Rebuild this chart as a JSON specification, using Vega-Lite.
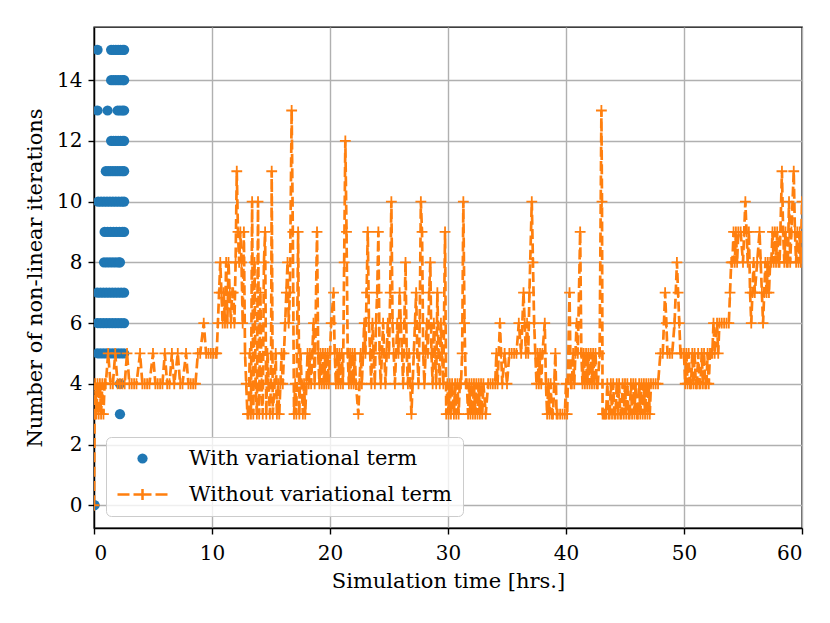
{
  "$schema": "https://vega.github.io/schema/vega-lite/v6.json",
  "width": 708,
  "height": 501,
  "autosize": "none",
  "padding": {"left": 94, "top": 27, "right": 28, "bottom": 95},
  "background": "white",
  "datasets": {
    "dots": [
      {"t": 0.3, "n": 15}, {"t": 1.45, "n": 15}, {"t": 1.65, "n": 15}, {"t": 1.85, "n": 15}, {"t": 2.05, "n": 15}, {"t": 2.25, "n": 15}, {"t": 2.45, "n": 15}, {"t": 2.55, "n": 15},
      {"t": 1.45, "n": 14}, {"t": 1.65, "n": 14}, {"t": 1.85, "n": 14}, {"t": 2.05, "n": 14}, {"t": 2.25, "n": 14}, {"t": 2.45, "n": 14}, {"t": 2.55, "n": 14},
      {"t": 0.3, "n": 13}, {"t": 1.15, "n": 13}, {"t": 2.0, "n": 13}, {"t": 2.2, "n": 13}, {"t": 2.4, "n": 13}, {"t": 2.55, "n": 13},
      {"t": 1.45, "n": 12}, {"t": 1.65, "n": 12}, {"t": 1.85, "n": 12}, {"t": 2.05, "n": 12}, {"t": 2.25, "n": 12}, {"t": 2.45, "n": 12}, {"t": 2.55, "n": 12},
      {"t": 1.0, "n": 11}, {"t": 1.2, "n": 11}, {"t": 1.4, "n": 11}, {"t": 1.6, "n": 11}, {"t": 1.8, "n": 11}, {"t": 2.0, "n": 11}, {"t": 2.2, "n": 11}, {"t": 2.4, "n": 11}, {"t": 2.55, "n": 11},
      {"t": 0.35, "n": 10}, {"t": 0.6, "n": 10}, {"t": 0.85, "n": 10}, {"t": 1.1, "n": 10}, {"t": 1.35, "n": 10}, {"t": 1.6, "n": 10}, {"t": 1.85, "n": 10}, {"t": 2.1, "n": 10}, {"t": 2.35, "n": 10}, {"t": 2.55, "n": 10},
      {"t": 0.9, "n": 9}, {"t": 1.15, "n": 9}, {"t": 1.4, "n": 9}, {"t": 1.65, "n": 9}, {"t": 1.9, "n": 9}, {"t": 2.15, "n": 9}, {"t": 2.4, "n": 9}, {"t": 2.55, "n": 9},
      {"t": 0.85, "n": 8}, {"t": 1.1, "n": 8}, {"t": 1.35, "n": 8}, {"t": 1.6, "n": 8}, {"t": 1.85, "n": 8}, {"t": 2.1, "n": 8}, {"t": 2.2, "n": 8},
      {"t": 0.3, "n": 7}, {"t": 0.55, "n": 7}, {"t": 0.8, "n": 7}, {"t": 1.05, "n": 7}, {"t": 1.3, "n": 7}, {"t": 1.55, "n": 7}, {"t": 1.8, "n": 7}, {"t": 2.05, "n": 7}, {"t": 2.3, "n": 7}, {"t": 2.55, "n": 7},
      {"t": 0.3, "n": 6}, {"t": 0.55, "n": 6}, {"t": 0.8, "n": 6}, {"t": 1.05, "n": 6}, {"t": 1.3, "n": 6}, {"t": 1.55, "n": 6}, {"t": 1.8, "n": 6}, {"t": 2.05, "n": 6}, {"t": 2.3, "n": 6}, {"t": 2.55, "n": 6},
      {"t": 0.3, "n": 5}, {"t": 0.55, "n": 5}, {"t": 0.8, "n": 5}, {"t": 1.05, "n": 5}, {"t": 1.3, "n": 5}, {"t": 1.55, "n": 5}, {"t": 1.8, "n": 5}, {"t": 2.05, "n": 5}, {"t": 2.3, "n": 5}, {"t": 2.55, "n": 5},
      {"t": 2.2, "n": 4}, {"t": 2.2, "n": 3}, {"t": 0.05, "n": 0}
    ],
    "runs": [
      {"t": 0, "n": 0}, {"t": 0.05, "n": 3}, {"t": 0.1, "n": 4}, {"t": 0.2, "n": 3}, {"t": 0.3, "n": 4}, {"t": 0.4, "n": 3}, {"t": 0.5, "n": 4}, {"t": 0.6, "n": 3}, {"t": 0.7, "n": 4}, {"t": 0.8, "n": 3}, {"t": 0.9, "n": 4},
      {"t": 1.0, "n": 4}, {"t": 1.2, "n": 5}, {"t": 1.4, "n": 4}, {"t": 1.6, "n": 4}, {"t": 1.8, "n": 5}, {"t": 2.0, "n": 4}, {"t": 2.2, "n": 4}, {"t": 2.4, "n": 4}, {"t": 2.6, "n": 4}, {"t": 2.8, "n": 5},
      {"t": 3.0, "n": 4}, {"t": 3.2, "n": 4}, {"t": 3.4, "n": 4}, {"t": 3.6, "n": 4}, {"t": 3.9, "n": 5}, {"t": 4.1, "n": 4}, {"t": 4.3, "n": 4}, {"t": 4.5, "n": 4}, {"t": 4.7, "n": 4}, {"t": 5.0, "n": 5},
      {"t": 5.2, "n": 4}, {"t": 5.4, "n": 4}, {"t": 5.6, "n": 4}, {"t": 5.8, "n": 4}, {"t": 6.0, "n": 5}, {"t": 6.2, "n": 4}, {"t": 6.4, "n": 4}, {"t": 6.6, "n": 5}, {"t": 6.8, "n": 4}, {"t": 7.1, "n": 5},
      {"t": 7.3, "n": 4}, {"t": 7.5, "n": 4}, {"t": 7.8, "n": 5}, {"t": 8.0, "n": 4}, {"t": 8.2, "n": 4}, {"t": 8.4, "n": 4}, {"t": 8.6, "n": 4}, {"t": 8.8, "n": 5}, {"t": 9.0, "n": 5}, {"t": 9.3, "n": 6},
      {"t": 9.5, "n": 5}, {"t": 9.7, "n": 5}, {"t": 9.9, "n": 5}, {"t": 10.1, "n": 5}, {"t": 10.3, "n": 5},
      {"t": 10.4, "n": 5}, {"t": 10.5, "n": 6}, {"t": 10.6, "n": 7}, {"t": 10.7, "n": 8}, {"t": 10.8, "n": 7}, {"t": 10.9, "n": 6}, {"t": 11.0, "n": 7}, {"t": 11.1, "n": 6}, {"t": 11.2, "n": 8}, {"t": 11.3, "n": 6},
      {"t": 11.4, "n": 8}, {"t": 11.5, "n": 7}, {"t": 11.6, "n": 6}, {"t": 11.7, "n": 7}, {"t": 11.8, "n": 7}, {"t": 11.9, "n": 6}, {"t": 12.0, "n": 8}, {"t": 12.1, "n": 11}, {"t": 12.2, "n": 9}, {"t": 12.3, "n": 8},
      {"t": 12.4, "n": 9}, {"t": 12.5, "n": 8}, {"t": 12.6, "n": 6}, {"t": 12.7, "n": 9}, {"t": 12.8, "n": 5}, {"t": 12.9, "n": 4}, {"t": 13.0, "n": 3},
      {"t": 13.1, "n": 3}, {"t": 13.2, "n": 5}, {"t": 13.3, "n": 3}, {"t": 13.4, "n": 10}, {"t": 13.5, "n": 3}, {"t": 13.6, "n": 8}, {"t": 13.7, "n": 4}, {"t": 13.8, "n": 3}, {"t": 13.9, "n": 10}, {"t": 14.0, "n": 3},
      {"t": 14.1, "n": 7}, {"t": 14.2, "n": 4}, {"t": 14.3, "n": 3}, {"t": 14.4, "n": 8}, {"t": 14.5, "n": 9}, {"t": 14.6, "n": 3}, {"t": 14.7, "n": 5}, {"t": 14.8, "n": 4}, {"t": 14.9, "n": 3}, {"t": 15.0, "n": 4},
      {"t": 15.06, "n": 11}, {"t": 15.15, "n": 3}, {"t": 15.3, "n": 4}, {"t": 15.4, "n": 5}, {"t": 15.5, "n": 3}, {"t": 15.6, "n": 4}, {"t": 15.7, "n": 3}, {"t": 15.8, "n": 4}, {"t": 15.9, "n": 5}, {"t": 16.0, "n": 4},
      {"t": 16.1, "n": 5}, {"t": 16.2, "n": 6}, {"t": 16.3, "n": 7}, {"t": 16.4, "n": 8}, {"t": 16.5, "n": 6}, {"t": 16.6, "n": 7}, {"t": 16.75, "n": 13}, {"t": 16.85, "n": 9}, {"t": 16.95, "n": 3}, {"t": 17.05, "n": 4},
      {"t": 17.15, "n": 3}, {"t": 17.3, "n": 9}, {"t": 17.4, "n": 3}, {"t": 17.5, "n": 5}, {"t": 17.6, "n": 4}, {"t": 17.7, "n": 3}, {"t": 17.8, "n": 4}, {"t": 17.9, "n": 3}, {"t": 18.0, "n": 4}, {"t": 18.1, "n": 5},
      {"t": 18.2, "n": 4}, {"t": 18.3, "n": 5}, {"t": 18.4, "n": 4}, {"t": 18.5, "n": 5}, {"t": 18.6, "n": 6}, {"t": 18.7, "n": 4}, {"t": 18.9, "n": 9}, {"t": 19.0, "n": 5}, {"t": 19.1, "n": 4}, {"t": 19.2, "n": 5},
      {"t": 19.3, "n": 4}, {"t": 19.4, "n": 5}, {"t": 19.5, "n": 4}, {"t": 19.6, "n": 5}, {"t": 19.7, "n": 4}, {"t": 19.8, "n": 5}, {"t": 19.9, "n": 4}, {"t": 20.0, "n": 5}, {"t": 20.1, "n": 6}, {"t": 20.3, "n": 7},
      {"t": 20.4, "n": 5}, {"t": 20.5, "n": 4}, {"t": 20.6, "n": 5}, {"t": 20.7, "n": 4}, {"t": 20.8, "n": 5}, {"t": 20.9, "n": 4}, {"t": 21.0, "n": 5}, {"t": 21.1, "n": 4}, {"t": 21.2, "n": 8}, {"t": 21.3, "n": 12},
      {"t": 21.4, "n": 9}, {"t": 21.5, "n": 5}, {"t": 21.6, "n": 4}, {"t": 21.7, "n": 5}, {"t": 21.8, "n": 4}, {"t": 21.9, "n": 5}, {"t": 22.0, "n": 4}, {"t": 22.1, "n": 5}, {"t": 22.2, "n": 4}, {"t": 22.4, "n": 3},
      {"t": 22.5, "n": 4}, {"t": 22.6, "n": 5}, {"t": 22.7, "n": 4}, {"t": 22.8, "n": 5}, {"t": 22.9, "n": 6}, {"t": 23.0, "n": 5}, {"t": 23.1, "n": 7}, {"t": 23.2, "n": 9}, {"t": 23.3, "n": 6}, {"t": 23.4, "n": 5},
      {"t": 23.5, "n": 4}, {"t": 23.6, "n": 6}, {"t": 23.7, "n": 5}, {"t": 23.8, "n": 4}, {"t": 23.9, "n": 6}, {"t": 24.0, "n": 7}, {"t": 24.1, "n": 9}, {"t": 24.2, "n": 5}, {"t": 24.3, "n": 4}, {"t": 24.4, "n": 5},
      {"t": 24.5, "n": 6}, {"t": 24.6, "n": 5}, {"t": 24.7, "n": 4}, {"t": 24.8, "n": 5}, {"t": 24.9, "n": 6}, {"t": 25.0, "n": 5}, {"t": 25.1, "n": 7}, {"t": 25.2, "n": 10}, {"t": 25.3, "n": 6}, {"t": 25.4, "n": 5},
      {"t": 25.5, "n": 4}, {"t": 25.6, "n": 5}, {"t": 25.7, "n": 6}, {"t": 25.8, "n": 5}, {"t": 25.9, "n": 7}, {"t": 26.0, "n": 6}, {"t": 26.1, "n": 5}, {"t": 26.2, "n": 4}, {"t": 26.3, "n": 6}, {"t": 26.4, "n": 8},
      {"t": 26.5, "n": 5}, {"t": 26.6, "n": 4}, {"t": 26.7, "n": 5}, {"t": 26.8, "n": 4}, {"t": 26.9, "n": 3}, {"t": 27.0, "n": 4}, {"t": 27.1, "n": 5}, {"t": 27.2, "n": 6}, {"t": 27.3, "n": 7}, {"t": 27.4, "n": 5},
      {"t": 27.5, "n": 4}, {"t": 27.6, "n": 6}, {"t": 27.7, "n": 10}, {"t": 27.8, "n": 9}, {"t": 27.9, "n": 5}, {"t": 28.0, "n": 4}, {"t": 28.1, "n": 5}, {"t": 28.2, "n": 6}, {"t": 28.3, "n": 5}, {"t": 28.4, "n": 7},
      {"t": 28.5, "n": 8}, {"t": 28.6, "n": 5}, {"t": 28.7, "n": 4}, {"t": 28.8, "n": 6}, {"t": 28.9, "n": 5}, {"t": 29.0, "n": 4}, {"t": 29.1, "n": 7}, {"t": 29.2, "n": 5}, {"t": 29.3, "n": 4}, {"t": 29.4, "n": 6},
      {"t": 29.5, "n": 5}, {"t": 29.6, "n": 4}, {"t": 29.75, "n": 9}, {"t": 29.85, "n": 3},
      {"t": 29.95, "n": 4}, {"t": 30.05, "n": 3}, {"t": 30.15, "n": 4}, {"t": 30.25, "n": 3}, {"t": 30.35, "n": 4}, {"t": 30.5, "n": 3}, {"t": 30.6, "n": 4}, {"t": 30.7, "n": 3}, {"t": 30.8, "n": 4}, {"t": 30.9, "n": 3},
      {"t": 31.0, "n": 4}, {"t": 31.1, "n": 4}, {"t": 31.2, "n": 5}, {"t": 31.3, "n": 10}, {"t": 31.4, "n": 6}, {"t": 31.5, "n": 4}, {"t": 31.6, "n": 4}, {"t": 31.7, "n": 3}, {"t": 31.8, "n": 4}, {"t": 31.9, "n": 3},
      {"t": 32.0, "n": 4}, {"t": 32.1, "n": 3}, {"t": 32.2, "n": 4}, {"t": 32.3, "n": 3}, {"t": 32.4, "n": 4}, {"t": 32.5, "n": 3}, {"t": 32.6, "n": 4}, {"t": 32.7, "n": 3}, {"t": 32.8, "n": 4}, {"t": 32.9, "n": 3},
      {"t": 33.0, "n": 4}, {"t": 33.2, "n": 3}, {"t": 33.4, "n": 4}, {"t": 33.6, "n": 4}, {"t": 33.8, "n": 4}, {"t": 34.0, "n": 4}, {"t": 34.1, "n": 5}, {"t": 34.2, "n": 4}, {"t": 34.4, "n": 6}, {"t": 34.5, "n": 5},
      {"t": 34.6, "n": 4}, {"t": 34.8, "n": 5}, {"t": 35.0, "n": 4}, {"t": 35.2, "n": 5}, {"t": 35.4, "n": 5}, {"t": 35.6, "n": 5}, {"t": 35.8, "n": 5}, {"t": 36.0, "n": 6}, {"t": 36.2, "n": 5}, {"t": 36.4, "n": 7},
      {"t": 36.5, "n": 6}, {"t": 36.6, "n": 5}, {"t": 36.7, "n": 6}, {"t": 36.8, "n": 5}, {"t": 36.9, "n": 7}, {"t": 37.1, "n": 10}, {"t": 37.2, "n": 8}, {"t": 37.3, "n": 6}, {"t": 37.4, "n": 5}, {"t": 37.5, "n": 4},
      {"t": 37.6, "n": 5}, {"t": 37.7, "n": 4}, {"t": 37.8, "n": 5}, {"t": 37.9, "n": 4}, {"t": 38.0, "n": 5}, {"t": 38.2, "n": 6}, {"t": 38.3, "n": 4}, {"t": 38.4, "n": 3}, {"t": 38.5, "n": 4}, {"t": 38.6, "n": 3},
      {"t": 38.7, "n": 4}, {"t": 38.8, "n": 3}, {"t": 38.9, "n": 3}, {"t": 39.0, "n": 4}, {"t": 39.1, "n": 5}, {"t": 39.2, "n": 3}, {"t": 39.3, "n": 3}, {"t": 39.5, "n": 3}, {"t": 39.7, "n": 3}, {"t": 39.9, "n": 3},
      {"t": 40.0, "n": 4}, {"t": 40.1, "n": 3}, {"t": 40.3, "n": 7}, {"t": 40.4, "n": 4}, {"t": 40.5, "n": 4}, {"t": 40.6, "n": 5}, {"t": 40.7, "n": 4}, {"t": 40.8, "n": 5}, {"t": 40.9, "n": 6}, {"t": 41.0, "n": 5},
      {"t": 41.2, "n": 9}, {"t": 41.3, "n": 5}, {"t": 41.4, "n": 4}, {"t": 41.5, "n": 5}, {"t": 41.6, "n": 4}, {"t": 41.7, "n": 5}, {"t": 41.8, "n": 4}, {"t": 41.9, "n": 5}, {"t": 42.0, "n": 4}, {"t": 42.1, "n": 5},
      {"t": 42.2, "n": 4}, {"t": 42.3, "n": 5}, {"t": 42.4, "n": 4}, {"t": 42.5, "n": 5}, {"t": 42.6, "n": 4}, {"t": 42.7, "n": 4}, {"t": 42.85, "n": 5}, {"t": 43.0, "n": 13}, {"t": 43.05, "n": 10}, {"t": 43.1, "n": 3},
      {"t": 43.2, "n": 3}, {"t": 43.3, "n": 3}, {"t": 43.4, "n": 3}, {"t": 43.5, "n": 4}, {"t": 43.6, "n": 3}, {"t": 43.7, "n": 3}, {"t": 43.8, "n": 4}, {"t": 43.9, "n": 3}, {"t": 44.0, "n": 4}, {"t": 44.1, "n": 3},
      {"t": 44.2, "n": 3}, {"t": 44.3, "n": 4}, {"t": 44.4, "n": 3}, {"t": 44.5, "n": 4}, {"t": 44.6, "n": 3}, {"t": 44.7, "n": 3}, {"t": 44.8, "n": 4}, {"t": 44.9, "n": 3}, {"t": 45.0, "n": 4}, {"t": 45.1, "n": 3},
      {"t": 45.2, "n": 4}, {"t": 45.3, "n": 3}, {"t": 45.4, "n": 3}, {"t": 45.5, "n": 4}, {"t": 45.6, "n": 3}, {"t": 45.7, "n": 4}, {"t": 45.8, "n": 3}, {"t": 45.9, "n": 4}, {"t": 46.0, "n": 3}, {"t": 46.1, "n": 3},
      {"t": 46.2, "n": 4}, {"t": 46.3, "n": 3}, {"t": 46.4, "n": 4}, {"t": 46.5, "n": 3}, {"t": 46.6, "n": 4}, {"t": 46.7, "n": 3}, {"t": 46.8, "n": 4}, {"t": 46.9, "n": 3}, {"t": 47.0, "n": 4}, {"t": 47.1, "n": 3},
      {"t": 47.2, "n": 4}, {"t": 47.4, "n": 4}, {"t": 47.6, "n": 4}, {"t": 47.8, "n": 4}, {"t": 48.0, "n": 5}, {"t": 48.2, "n": 5}, {"t": 48.4, "n": 7}, {"t": 48.5, "n": 6}, {"t": 48.6, "n": 5}, {"t": 48.8, "n": 5},
      {"t": 49.0, "n": 5}, {"t": 49.2, "n": 6}, {"t": 49.4, "n": 8}, {"t": 49.5, "n": 7}, {"t": 49.6, "n": 6}, {"t": 49.7, "n": 5}, {"t": 49.8, "n": 5}, {"t": 50.0, "n": 5}, {"t": 50.1, "n": 4}, {"t": 50.2, "n": 5},
      {"t": 50.3, "n": 4}, {"t": 50.4, "n": 5}, {"t": 50.5, "n": 4}, {"t": 50.6, "n": 4}, {"t": 50.7, "n": 5}, {"t": 50.8, "n": 4}, {"t": 50.9, "n": 5}, {"t": 51.0, "n": 4}, {"t": 51.1, "n": 4}, {"t": 51.2, "n": 5},
      {"t": 51.3, "n": 4}, {"t": 51.4, "n": 4}, {"t": 51.5, "n": 5}, {"t": 51.6, "n": 4}, {"t": 51.7, "n": 5}, {"t": 51.8, "n": 4}, {"t": 51.9, "n": 4}, {"t": 52.0, "n": 5}, {"t": 52.1, "n": 4}, {"t": 52.2, "n": 5},
      {"t": 52.3, "n": 5}, {"t": 52.4, "n": 5}, {"t": 52.5, "n": 6}, {"t": 52.6, "n": 5}, {"t": 52.8, "n": 6}, {"t": 52.9, "n": 5}, {"t": 53.0, "n": 6}, {"t": 53.2, "n": 6}, {"t": 53.4, "n": 6}, {"t": 53.6, "n": 6},
      {"t": 53.8, "n": 6}, {"t": 53.9, "n": 7}, {"t": 54.0, "n": 8}, {"t": 54.1, "n": 8}, {"t": 54.2, "n": 9}, {"t": 54.3, "n": 8}, {"t": 54.4, "n": 9}, {"t": 54.5, "n": 8}, {"t": 54.6, "n": 9}, {"t": 54.8, "n": 9},
      {"t": 55.0, "n": 8}, {"t": 55.1, "n": 9}, {"t": 55.2, "n": 10}, {"t": 55.3, "n": 9}, {"t": 55.4, "n": 8}, {"t": 55.5, "n": 9}, {"t": 55.6, "n": 7}, {"t": 55.7, "n": 6}, {"t": 55.8, "n": 7}, {"t": 55.9, "n": 8},
      {"t": 56.0, "n": 7}, {"t": 56.2, "n": 8}, {"t": 56.4, "n": 9}, {"t": 56.5, "n": 8}, {"t": 56.6, "n": 7}, {"t": 56.7, "n": 6}, {"t": 56.8, "n": 7}, {"t": 56.9, "n": 8}, {"t": 57.0, "n": 7}, {"t": 57.1, "n": 8},
      {"t": 57.2, "n": 7}, {"t": 57.3, "n": 8}, {"t": 57.4, "n": 8}, {"t": 57.5, "n": 9}, {"t": 57.6, "n": 8}, {"t": 57.7, "n": 9}, {"t": 57.8, "n": 8}, {"t": 57.9, "n": 9}, {"t": 58.0, "n": 8}, {"t": 58.1, "n": 8},
      {"t": 58.3, "n": 11}, {"t": 58.4, "n": 9}, {"t": 58.5, "n": 8}, {"t": 58.6, "n": 9}, {"t": 58.7, "n": 8}, {"t": 58.8, "n": 8}, {"t": 58.9, "n": 10}, {"t": 59.0, "n": 8}, {"t": 59.1, "n": 9}, {"t": 59.3, "n": 11},
      {"t": 59.4, "n": 9}, {"t": 59.5, "n": 8}, {"t": 59.6, "n": 9}, {"t": 59.7, "n": 8}, {"t": 59.8, "n": 9}, {"t": 59.9, "n": 8}, {"t": 60.0, "n": 10}
    ]
  },
  "encoding": {
    "x": {
      "field": "t",
      "type": "quantitative",
      "title": "Simulation time [hrs.]",
      "scale": {"domain": [0, 60], "nice": false, "zero": false},
      "axis": {"values": [0, 10, 20, 30, 40, 50, 60], "format": "d", "labelPadding": 9, "titlePadding": 7}
    },
    "y": {
      "field": "n",
      "type": "quantitative",
      "title": "Number of non-linear iterations",
      "scale": {"domain": [-0.75, 15.75], "nice": false, "zero": false},
      "axis": {"values": [0, 2, 4, 6, 8, 10, 12, 14], "format": "d", "labelPadding": 6, "titlePadding": 11}
    }
  },
  "layer": [
    {
      "data": {"name": "dots"},
      "mark": {"type": "point", "filled": true, "opacity": 1, "clip": true},
      "encoding": {
        "fill": {
          "datum": "With variational term",
          "type": "nominal",
          "scale": {"domain": ["With variational term", "Without variational term"], "range": ["#1f77b4", "transparent"]},
          "legend": {"title": null, "orient": "bottom-left", "offset": 12, "symbolOffset": 14, "labelOffset": 35, "symbolStrokeWidth": 2.5}
        },
        "shape": {
          "datum": "With variational term",
          "type": "nominal",
          "scale": {"domain": ["With variational term", "Without variational term"], "range": ["circle", "M-2.5,0H-1.3M-0.9,0H0.9M1.3,0H2.5M0,-0.55V0.55"]},
          "legend": {"title": null, "orient": "bottom-left", "offset": 12, "symbolOffset": 14, "labelOffset": 35, "symbolStrokeWidth": 2.5}
        },
        "size": {
          "datum": "With variational term",
          "type": "nominal",
          "scale": {"domain": ["With variational term", "Without variational term"], "range": [105, 400]},
          "legend": {"title": null, "orient": "bottom-left", "offset": 12, "symbolOffset": 14, "labelOffset": 35, "symbolStrokeWidth": 2.5}
        }
      }
    },
    {
      "data": {"name": "runs"},
      "mark": {"type": "line", "strokeDash": [10, 4.3], "strokeWidth": 2.7, "clip": true},
      "encoding": {
        "stroke": {
          "datum": "Without variational term",
          "type": "nominal",
          "scale": {"domain": ["With variational term", "Without variational term"], "range": ["transparent", "#ff7f0e"]},
          "legend": {"title": null, "orient": "bottom-left", "offset": 12, "symbolOffset": 14, "labelOffset": 35, "symbolStrokeWidth": 2.5}
        }
      }
    },
    {
      "data": {"name": "runs"},
      "mark": {"type": "point", "shape": "M-1,0H1M0,-1V1", "filled": false, "size": 117, "strokeWidth": 1.8, "opacity": 1, "clip": true},
      "encoding": {
        "stroke": {
          "datum": "Without variational term",
          "type": "nominal",
          "legend": {"title": null, "orient": "bottom-left", "offset": 12, "symbolOffset": 14, "labelOffset": 35, "symbolStrokeWidth": 2.5}
        }
      }
    }
  ],
  "config": {
    "font": "DejaVu Serif",
    "view": {"stroke": "black", "strokeWidth": 1.4},
    "axis": {
      "labelFont": "DejaVu Serif",
      "titleFont": "DejaVu Serif",
      "labelFontSize": 20,
      "titleFontSize": 21,
      "titleFontWeight": "normal",
      "labelColor": "black",
      "titleColor": "black",
      "domainColor": "black",
      "domainWidth": 1.4,
      "tickColor": "black",
      "tickWidth": 1.4,
      "tickSize": 6,
      "gridColor": "#b0b0b0",
      "gridWidth": 1.4
    },
    "legend": {
      "labelFont": "DejaVu Serif",
      "labelFontSize": 21,
      "labelColor": "black",
      "labelLimit": 500,
      "fillColor": "rgba(255,255,255,0.8)",
      "strokeColor": "#cccccc",
      "cornerRadius": 5,
      "padding": 11,
      "rowPadding": 14
    }
  }
}
